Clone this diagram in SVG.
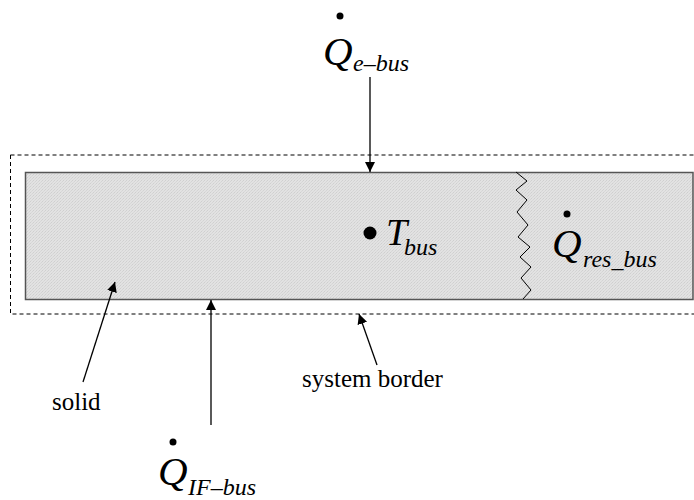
<svg xmlns="http://www.w3.org/2000/svg" width="694" height="500" viewBox="0 0 694 500">
<defs>
<pattern id="tex" width="3" height="3" patternUnits="userSpaceOnUse">
<rect width="3" height="3" fill="#e2e2e2"/>
<rect x="0" y="0" width="1" height="1" fill="#cfcfcf"/>
<rect x="2" y="1" width="1" height="1" fill="#d4d4d4"/>
<rect x="1" y="2" width="1" height="1" fill="#d8d8d8"/>
</pattern>
<marker id="ah" viewBox="0 0 10 10" refX="10" refY="5" markerWidth="10" markerHeight="10" markerUnits="userSpaceOnUse" orient="auto">
<path d="M0,0 L10,5 L0,10 z" fill="#000"/>
</marker>
</defs>
<style>
text{font-family:'Liberation Serif','Times New Roman',serif;fill:#000}
.lbl{font-size:25px}
.m{font-style:italic}
.con{stroke:#000;stroke-width:1.3;fill:none;marker-end:url(#ah)}
</style>
<g id="solid-body">
<rect x="25.5" y="172.5" width="667.5" height="127" fill="url(#tex)" stroke="#555" stroke-width="1.5"/>
<polyline points="516,172 527,181 516,190 527,200 517,212 528,225 518,237 530,247 520,257 531,267 521,278 531,290 523,299" fill="none" stroke="#000" stroke-width="1"/>
</g>
<g id="system-border">
<rect x="10.5" y="155" width="690" height="159" fill="none" stroke="#000" stroke-width="1" stroke-dasharray="4,3"/>
</g>
<g id="T-bus">
<circle cx="370" cy="233" r="6.5" fill="#000"/>
<text class="m" x="386" y="245" font-size="38">T</text>
<text class="m" x="404" y="255" font-size="24">bus</text>
</g>
<g id="Q-e-bus">
<circle cx="340" cy="16" r="3.5" fill="#000"/>
<text class="m" x="323" y="65" font-size="41">Q</text>
<text class="m" x="353" y="71" font-size="24">e–bus</text>
</g>
<g id="Q-res-bus">
<circle cx="567" cy="214" r="3.5" fill="#000"/>
<text class="m" x="552" y="257" font-size="41">Q</text>
<text class="m" x="583" y="267" font-size="24">res_bus</text>
</g>
<g id="Q-IF-bus">
<circle cx="173" cy="442" r="3.5" fill="#000"/>
<text class="m" x="158" y="485" font-size="41">Q</text>
<text class="m" x="188" y="495" font-size="24">IF–bus</text>
</g>
<g id="label-solid">
<text class="lbl" x="52" y="410">solid</text>
</g>
<g id="label-system-border">
<text class="lbl" x="302" y="387">system border</text>
</g>
<g id="connectors">
<line class="con" x1="370" y1="77" x2="370" y2="172"/>
<line class="con" x1="211" y1="425" x2="211" y2="300"/>
<line class="con" x1="83" y1="382" x2="115" y2="282"/>
<line class="con" x1="377" y1="365" x2="359" y2="314"/>
</g>
</svg>
